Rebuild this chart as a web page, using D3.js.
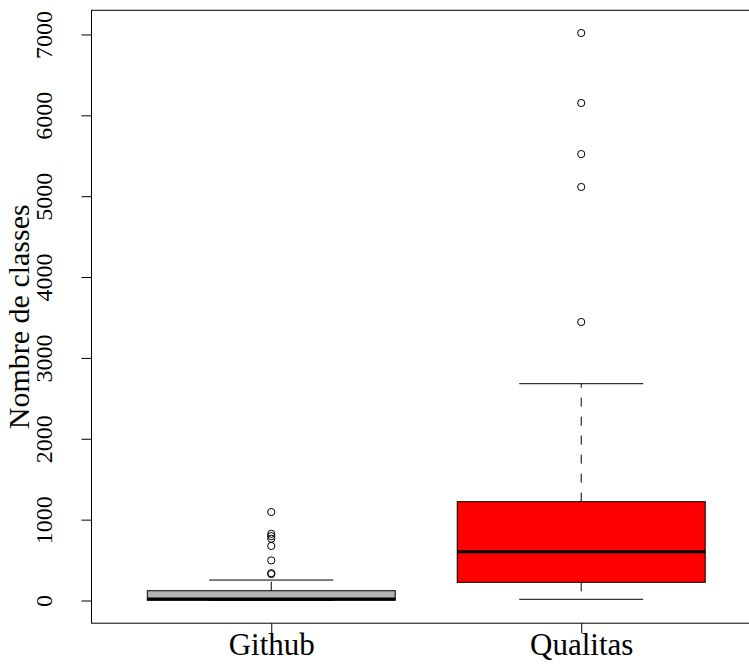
<!DOCTYPE html>
<html><head><meta charset="utf-8">
<script src="https://cdn.jsdelivr.net/npm/d3@7"></script>
<style>body{margin:0;background:#fff}svg{display:block}</style>
</head><body><svg id="c" width="749" height="671"></svg>
<script>
const categories = ["Github", "Qualitas"];
const whiskerLow = [0, 15];
const q1 = [3, 225];
const median = [18, 603];
const q3 = [121, 1222];
const whiskerHigh = [253, 2681];
const outliersGithub = [1094, 825, 796, 764, 674, 496, 338, 327];
const outliersQualitas = [7018, 6152, 5521, 5114, 3444];
const yTicks = [0, 1000, 2000, 3000, 4000, 5000, 6000, 7000];
const fills = ["#b3b3b3", "#ff0000"];
const yTitle = "Nombre de classes";
const FONT = "'Liberation Serif', 'DejaVu Serif', serif";

const svg = d3.select("#c");
const L = 91.5, R = 761, T = 10.3, B = 623.2;
const allOut = [outliersGithub, outliersQualitas];
const hi = d3.max([...whiskerHigh, ...outliersGithub, ...outliersQualitas]);
const lo = d3.min(whiskerLow);
const pad = (hi - lo) * 0.04;
const y = d3.scaleLinear().domain([lo - pad, hi + pad]).range([B, T]);
const x = d3.scaleLinear().domain([0.42, 2.58]).range([L, R]);
const bw = (x(1.4) - x(0.6));
const cw = bw / 2;

const g = svg.append("g");
categories.forEach((c, i) => {
  const cx = x(i + 1);
  g.append("line").attr("x1", cx).attr("x2", cx).attr("y1", y(q3[i])).attr("y2", y(whiskerHigh[i]))
    .attr("stroke", "#000").attr("stroke-width", 1).attr("stroke-dasharray", "9,10");
  g.append("line").attr("x1", cx).attr("x2", cx).attr("y1", y(q1[i])).attr("y2", y(whiskerLow[i]))
    .attr("stroke", "#000").attr("stroke-width", 1).attr("stroke-dasharray", "9,10");
  [whiskerHigh[i], whiskerLow[i]].forEach(v => {
    g.append("line").attr("x1", cx - cw / 2).attr("x2", cx + cw / 2).attr("y1", y(v)).attr("y2", y(v))
      .attr("stroke", "#000").attr("stroke-width", 1);
  });
  g.append("rect").attr("x", cx - bw / 2).attr("width", bw)
    .attr("y", y(q3[i])).attr("height", y(q1[i]) - y(q3[i]))
    .attr("fill", fills[i]).attr("stroke", "#000").attr("stroke-width", 1);
  g.append("line").attr("x1", cx - bw / 2).attr("x2", cx + bw / 2).attr("y1", y(median[i])).attr("y2", y(median[i]))
    .attr("stroke", "#000").attr("stroke-width", 3);
  g.selectAll(null).data(allOut[i]).enter().append("circle")
    .attr("cx", cx).attr("cy", d => y(d)).attr("r", 3.6)
    .attr("fill", "none").attr("stroke", "#000").attr("stroke-width", 1);
});

svg.append("rect").attr("x", L).attr("y", T).attr("width", R - L).attr("height", B - T)
  .attr("fill", "none").attr("stroke", "#000").attr("stroke-width", 1);

const ya = svg.append("g").attr("transform", `translate(${L},0)`)
  .call(d3.axisLeft(y).tickValues(yTicks).tickSize(10).tickPadding(0).tickFormat(d3.format("d")));
ya.attr("font-family", FONT).attr("font-size", 24);
ya.select(".domain").remove();
ya.selectAll("line").attr("stroke", "#000");
ya.selectAll(".tick text").attr("x", 0).attr("dx", null).attr("dy", "0.35em")
  .attr("transform", "translate(-48,0) rotate(-90)")
  .attr("text-anchor", "middle").attr("fill", "#000")
  .style("font-family", FONT).style("font-size", "24px");

const xa = svg.append("g").attr("transform", `translate(0,${B})`)
  .call(d3.axisBottom(x).tickValues([1, 2]).tickSize(10).tickPadding(0).tickFormat(d => categories[d - 1]));
xa.attr("font-family", FONT).attr("font-size", 31);
xa.select(".domain").remove();
xa.selectAll("line").attr("stroke", "#000");
xa.selectAll("text").attr("fill", "#000").style("font-family", FONT).style("font-size", "31px").attr("dy", "0.71em");

svg.append("text").attr("transform", `translate(29,${(T + B) / 2}) rotate(-90)`)
  .attr("text-anchor", "middle").attr("fill", "#000")
  .style("font-family", FONT).style("font-size", "30px").text(yTitle);
</script></body></html>
